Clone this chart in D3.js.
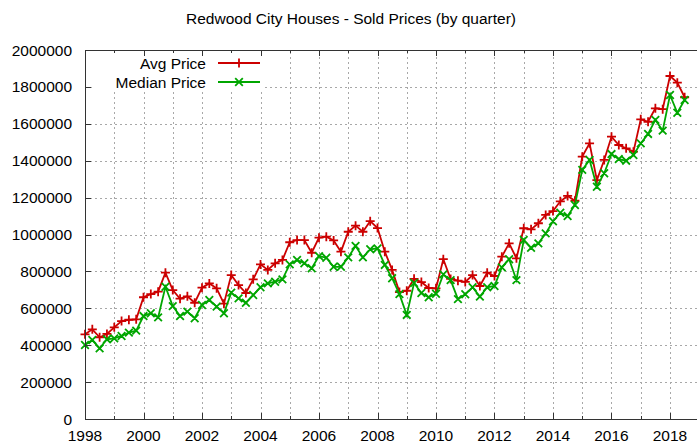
<!DOCTYPE html>
<html><head><meta charset="utf-8">
<script src="https://cdn.jsdelivr.net/npm/d3@7"></script>
<style>
html,body{margin:0;padding:0;background:#fff;}
svg{display:block;font-family:"Liberation Sans",Arial,sans-serif;}
</style></head>
<body>
<svg id="chart" width="697" height="442"></svg>
<script>
const title = "Redwood City Houses - Sold Prices (by quarter)";
const seriesNames = ["Avg Price", "Median Price"];
const startYear = 1998;
// quarterly values from 1998 Q1 to 2018 Q3
const avgPrice = [
  459000, 486000, 443000, 461000,
  497000, 531000, 538000, 540000,
  660000, 677000, 690000, 793000,
  699000, 652000, 665000, 630000,
  712000, 735000, 708000, 625000,
  780000, 726000, 683000, 757000,
  838000, 808000, 844000, 862000,
  958000, 970000, 970000, 901000,
  983000, 988000, 968000, 907000,
  1015000, 1048000, 1015000, 1072000,
  1035000, 907000, 808000, 688000,
  695000, 760000, 742000, 710000,
  708000, 866000, 759000, 750000,
  743000, 780000, 721000, 793000,
  775000, 880000, 952000, 871000,
  1034000, 1028000, 1061000, 1106000,
  1127000, 1180000, 1209000, 1183000,
  1422000, 1494000, 1295000, 1404000,
  1530000, 1485000, 1467000, 1449000,
  1624000, 1611000, 1684000, 1679000,
  1859000, 1823000, 1744000
];
const medianPrice = [
  401000, 428000, 383000, 432000,
  437000, 450000, 468000, 479000,
  558000, 573000, 551000, 717000,
  612000, 558000, 582000, 546000,
  618000, 645000, 609000, 573000,
  685000, 654000, 630000, 672000,
  714000, 735000, 744000, 757000,
  838000, 862000, 844000, 817000,
  883000, 874000, 825000, 825000,
  876000, 938000, 876000, 920000,
  925000, 835000, 763000, 677000,
  564000, 737000, 683000, 660000,
  679000, 784000, 753000, 650000,
  676000, 714000, 663000, 714000,
  721000, 822000, 866000, 753000,
  970000, 928000, 952000, 1006000,
  1072000, 1118000, 1100000, 1160000,
  1350000, 1404000, 1259000, 1332000,
  1436000, 1409000, 1400000, 1431000,
  1494000, 1545000, 1621000, 1563000,
  1756000, 1660000, 1729000
];
const xMajorTicks = [1998, 2000, 2002, 2004, 2006, 2008, 2010, 2012, 2014, 2016, 2018];
const xMinorTicks = [1999, 2001, 2003, 2005, 2007, 2009, 2011, 2013, 2015, 2017];
const yTicks = [0, 200000, 400000, 600000, 800000, 1000000, 1200000, 1400000, 1600000, 1800000, 2000000];

const colors = ["#cc0000", "#00a600"];
const svg = d3.select("#chart");
const L = 85, T = 50, B = 419;
const x = d3.scaleLinear().domain([1998, 2019]).range([L, L + 21 * 29.25]);
const y = d3.scaleLinear().domain([0, 2000000]).range([B, T]);
const R = x(2019);
const fontSize = 15.5;

// title
svg.append("text").attr("x", 351).attr("y", 24).attr("text-anchor", "middle")
  .attr("font-size", fontSize).attr("fill", "#000").text(title);

// grid
const grid = svg.append("g").attr("stroke", "#a8a8a8").attr("stroke-width", 1)
  .attr("stroke-dasharray", "2,3").attr("fill", "none");
xMajorTicks.concat(xMinorTicks).filter(v => v > 1998).forEach(v => {
  grid.append("line").attr("x1", Math.round(x(v)) + 0.5).attr("x2", Math.round(x(v)) + 0.5)
    .attr("y1", B).attr("y2", T);
});
yTicks.filter(v => v > 0 && v < 2000000).forEach(v => {
  grid.append("line").attr("y1", Math.round(y(v)) + 0.5).attr("y2", Math.round(y(v)) + 0.5)
    .attr("x1", L).attr("x2", R);
});

// legend background (clears grid)
svg.append("rect").attr("x", 93).attr("y", 51).attr("width", 172).attr("height", 39).attr("fill", "#fff");

// series
const series = [avgPrice, medianPrice];
const t = i => startYear + i / 4;
const line = d3.line().x((d, i) => x(t(i))).y(d => y(d));
const plusPath = (cx, cy, s) => `M${cx - s},${cy}H${cx + s}M${cx},${cy - s}V${cy + s}`;
const crossPath = (cx, cy, s) => `M${cx - s},${cy - s}L${cx + s},${cy + s}M${cx - s},${cy + s}L${cx + s},${cy - s}`;
const markers = [plusPath, crossPath];
series.forEach((data, k) => {
  const g = svg.append("g");
  g.append("path").datum(data).attr("d", line).attr("fill", "none")
    .attr("stroke", colors[k]).attr("stroke-width", 1.8).attr("stroke-linejoin", "miter");
  g.append("path").attr("d", data.map((d, i) => markers[k](x(t(i)), y(d), k === 0 ? 4.5 : 3.8)).join(""))
    .attr("fill", "none").attr("stroke", colors[k]).attr("stroke-width", 1.8);
});

// border
const ax = svg.append("g").attr("stroke", "#333").attr("stroke-width", 1).attr("fill", "none");
ax.append("path").attr("d", `M${R},${T + 0.5}H${L + 0.5}V${B + 0.5}H${R}`);
// ticks
xMajorTicks.forEach(v => {
  const px = Math.round(x(v)) + 0.5;
  ax.append("line").attr("x1", px).attr("x2", px).attr("y1", B).attr("y2", B - 6);
  ax.append("line").attr("x1", px).attr("x2", px).attr("y1", T).attr("y2", T + 6);
});
xMinorTicks.forEach(v => {
  const px = Math.round(x(v)) + 0.5;
  ax.append("line").attr("x1", px).attr("x2", px).attr("y1", B).attr("y2", B - 3);
  ax.append("line").attr("x1", px).attr("x2", px).attr("y1", T).attr("y2", T + 3);
});
yTicks.forEach(v => {
  const py = Math.round(y(v)) + 0.5;
  ax.append("line").attr("x1", L).attr("x2", L + 6).attr("y1", py).attr("y2", py);
});

// tick labels
svg.append("g").selectAll("text").data(yTicks).join("text")
  .attr("x", 72).attr("y", d => y(d)).attr("dy", "0.36em").attr("text-anchor", "end")
  .attr("font-size", fontSize).attr("fill", "#000").text(d => d);
svg.append("g").selectAll("text").data(xMajorTicks).join("text")
  .attr("x", d => x(d)).attr("y", 440.5).attr("text-anchor", "middle")
  .attr("font-size", fontSize).attr("fill", "#000").text(d => d);

// legend
seriesNames.forEach((name, k) => {
  const ly = 63 + k * 19;
  svg.append("text").attr("x", 206).attr("y", ly).attr("dy", "0.36em").attr("text-anchor", "end")
    .attr("font-size", fontSize).attr("fill", "#000").text(name);
  svg.append("line").attr("x1", 218).attr("x2", 260).attr("y1", ly).attr("y2", ly)
    .attr("stroke", colors[k]).attr("stroke-width", 1.8);
  svg.append("path").attr("d", markers[k](239, ly, k === 0 ? 4.5 : 3.8))
    .attr("fill", "none").attr("stroke", colors[k]).attr("stroke-width", 1.8);
});
</script>
</body></html>
